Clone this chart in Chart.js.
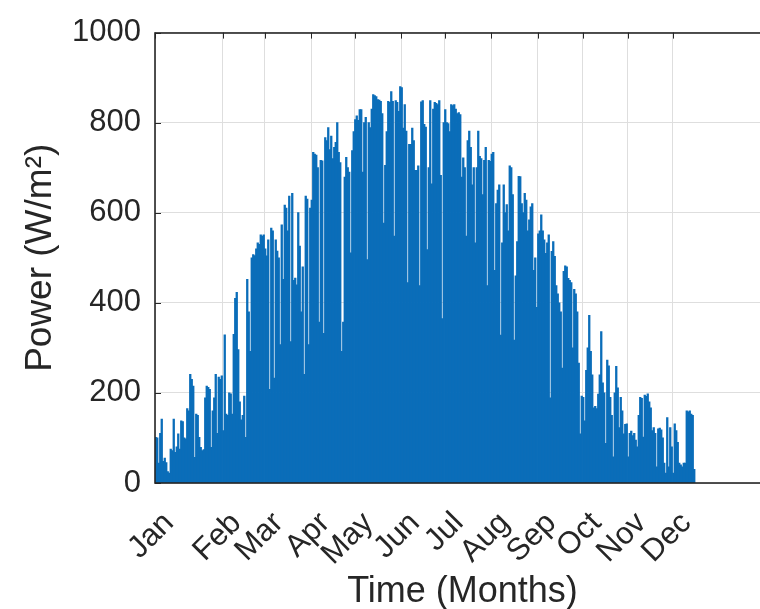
<!DOCTYPE html>
<html>
<head>
<meta charset="utf-8">
<script src="https://cdn.jsdelivr.net/npm/chart.js@4.4.1/dist/chart.umd.min.js"></script>
<style>
  html, body { margin: 0; padding: 0; overflow: hidden; background: #ffffff; }
  #wrap { width: 772px; height: 609px; }
</style>
</head>
<body>
<div id="wrap"><canvas id="c" width="772" height="609"></canvas></div>
<script>
// Daily mean solar power (W/m^2), one value per day
const DAILY_POWER = [
  101, 100, 44, 110, 142, 48, 55, 45, 25, 22,
  75, 72, 142, 68, 80, 109, 75, 138, 136, 100,
  98, 165, 160, 241, 230, 215, 57, 153, 150, 101,
  79, 72, 74, 189, 215, 212, 208, 79, 160, 189,
  241, 110, 235, 230, 238, 116, 329, 153, 150, 200,
  198, 153, 330, 410, 423, 296, 180, 140, 150, 193,
  101, 452, 380, 292, 500, 507, 505, 520, 533, 530,
  551, 548, 551, 520, 504, 540, 208, 566, 560, 233,
  540, 515, 500, 307, 573, 452, 617, 610, 560, 637,
  314, 643, 450, 455, 440, 600, 526, 380, 480, 241,
  637, 630, 307, 610, 628, 734, 730, 728, 700, 357,
  716, 715, 332, 767, 760, 789, 740, 770, 720, 745,
  756, 800, 734, 711, 292, 357, 679, 723, 700, 690,
  511, 738, 780, 807, 815, 805, 829, 829, 690, 800,
  812, 496, 800, 789, 830, 862, 860, 858, 851, 850,
  847, 820, 577, 705, 780, 847, 845, 869, 847, 548,
  849, 845, 825, 880, 878, 788, 840, 781, 445, 752,
  752, 788, 760, 694, 694, 704, 438, 846, 849, 796,
  790, 518, 700, 849, 664, 830, 845, 843, 840, 849,
  683, 365, 800, 829, 800, 798, 780, 840, 838, 840,
  830, 820, 822, 818, 679, 722, 700, 548, 760, 781,
  745, 662, 700, 533, 700, 781, 725, 720, 640, 716,
  745, 438, 716, 714, 730, 734, 472, 620, 650, 662,
  328, 533, 662, 600, 618, 560, 704, 700, 640, 317,
  460, 536, 681, 680, 620, 600, 643, 628, 560, 584,
  613, 620, 472, 500, 390, 553, 560, 595, 560, 540,
  510, 533, 551, 189, 514, 536, 503, 438, 420, 400,
  380, 255, 470, 482, 480, 454, 450, 445, 300, 430,
  420, 380, 266, 109, 193, 190, 138, 250, 300, 372,
  292, 240, 167, 170, 165, 197, 240, 336, 222, 200,
  88, 273, 260, 190, 150, 58, 200, 259, 211, 123,
  190, 160, 109, 130, 131, 58, 110, 115, 105, 110,
  95, 80, 150, 190, 188, 102, 195, 192, 198, 180,
  167, 116, 123, 110, 36, 120, 122, 118, 100, 44,
  22, 145, 36, 123, 80, 22, 131, 116, 90, 44,
  40, 36, 44, 44, 160, 158, 160, 153, 150, 30
];

// Month tick positions (day index) and their labels
const MONTH_TICK_DAYS = [0, 45, 73, 104, 133, 164, 193, 224, 255, 285, 315, 345];
const MONTH_LABELS = ['Jan', 'Feb', 'Mar', 'Apr', 'May', 'Jun', 'Jul', 'Aug', 'Sep', 'Oct', 'Nov', 'Dec'];
const Y_TICKS = [0, 200, 400, 600, 800, 1000];

const TEXT_COLOR = '#262626';
const BAR_COLOR = '#0A6DB9';
const GRID_COLOR = '#dedede';
const FONT = 'Liberation Sans, Arial, sans-serif';

// Bars centred in the middle of each day
const barPoints = DAILY_POWER.map((v, i) => ({ x: i + 0.5, y: v }));

// Box around the axes plus inward-pointing tick marks
const framePlugin = {
  id: 'frame',
  afterDatasetsDraw(chart) {
    const { ctx, chartArea: a, scales: { x, y } } = chart;
    ctx.save();
    ctx.strokeStyle = TEXT_COLOR;
    ctx.lineWidth = 1;
    ctx.beginPath();
    for (const t of x.ticks) {
      const px = Math.round(x.getPixelForValue(t.value)) + 0.5;
      ctx.moveTo(px, a.top);
      ctx.lineTo(px, a.top + 6);
    }
    for (const t of y.ticks) {
      const py = Math.round(y.getPixelForValue(t.value)) + 0.5;
      ctx.moveTo(a.left, py);
      ctx.lineTo(a.left + 6, py);
    }
    ctx.stroke();
    ctx.lineWidth = 1.6;
    ctx.strokeRect(Math.round(a.left), Math.round(a.top), Math.round(a.right - a.left), Math.round(a.bottom - a.top));
    ctx.restore();
  }
};

new Chart(document.getElementById('c'), {
  type: 'bar',
  data: {
    datasets: [{
      data: barPoints,
      backgroundColor: BAR_COLOR,
      borderWidth: 0,
      barPercentage: 1,
      categoryPercentage: 1,
      inflateAmount: 0.4
    }]
  },
  options: {
    responsive: false,
    animation: false,
    devicePixelRatio: 1,
    layout: { padding: { top: 27, right: 2, left: 0, bottom: 0 } },
    plugins: { legend: { display: false }, tooltip: { enabled: false } },
    scales: {
      x: {
        type: 'linear',
        min: 0,
        max: 410,
        offset: false,
        afterBuildTicks: (s) => { s.ticks = MONTH_TICK_DAYS.map(v => ({ value: v })); },
        afterFit: (s) => { s.height = 126; },
        grid: { color: GRID_COLOR, drawTicks: false, offset: false },
        border: { display: false },
        ticks: {
          autoSkip: false,
          minRotation: 45,
          maxRotation: 45,
          padding: 22,
          labelOffset: 14,
          color: TEXT_COLOR,
          font: { family: FONT, size: 31 },
          callback: (v, i) => MONTH_LABELS[i]
        },
        title: {
          display: true,
          text: 'Time (Months)',
          color: TEXT_COLOR,
          font: { family: FONT, size: 36 },
          padding: { top: 0, bottom: -5 }
        }
      },
      y: {
        min: 0,
        max: 1000,
        afterBuildTicks: (s) => { s.ticks = Y_TICKS.map(v => ({ value: v })); },
        afterFit: (s) => { s.width = 155; },
        grid: { color: GRID_COLOR, drawTicks: false },
        border: { display: false },
        ticks: {
          padding: 14,
          color: TEXT_COLOR,
          font: { family: FONT, size: 31 },
          callback: (v) => String(v)
        },
        title: {
          display: true,
          text: 'Power (W/m²)',
          color: TEXT_COLOR,
          font: { family: FONT, size: 37 },
          padding: { top: 19, bottom: 0 }
        }
      }
    }
  },
  plugins: [framePlugin]
});
</script>
</body>
</html>
